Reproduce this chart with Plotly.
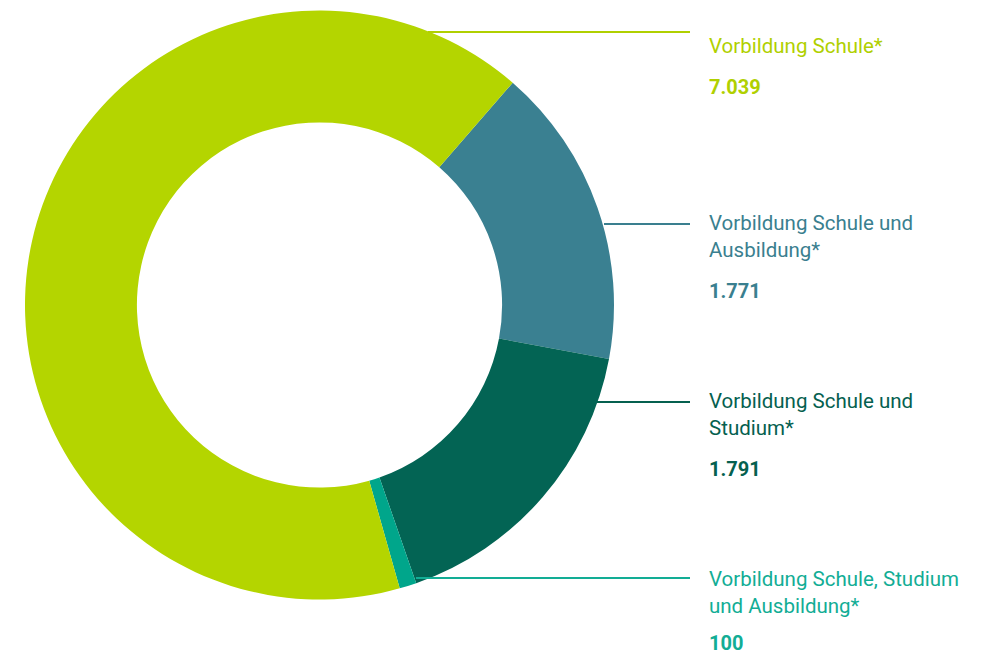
import plotly.graph_objects as go

labels = ["Vorbildung Schule und<br>Ausbildung*", "Vorbildung Schule und<br>Studium*",
          "Vorbildung Schule, Studium<br>und Ausbildung*", "Vorbildung Schule*"]
values = [1771, 1791, 100, 7039]
value_text = ["1.771", "1.791", "100", "7.039"]
colors = ["#3a8091", "#036454", "#00a68b", "#b4d500"]
text_colors = ["#3a7f8f", "#05604f", "#12ad95", "#b0d000"]

W, H = 988, 655

fig = go.Figure(go.Pie(
    labels=labels, values=values, sort=False, direction="clockwise", rotation=41,
    hole=0.62, marker=dict(colors=colors, line=dict(width=0)),
    textinfo="none", hoverinfo="skip",
    domain=dict(x=[25 / W, 614 / W], y=[1 - 600 / H, 1 - 10 / H]),
))

# pixel layout of the callouts: leader line y, line start x, first text line centre y
line_y = [224, 402, 578, 32]
line_x0 = [604, 597, 416, 428]
text_y = [224, 402, 579, 46]
for lab, vt, tc, ly, lx0, ty in zip(labels, value_text, text_colors, line_y, line_x0, text_y):
    nlines = lab.count("<br>") + 1
    fig.add_shape(type="line", xref="paper", yref="paper",
                  x0=lx0 / W, x1=690 / W, y0=1 - ly / H, y1=1 - ly / H,
                  line=dict(color=tc, width=2))
    cy = ty + (nlines - 1) * 13
    fig.add_annotation(x=707 / W, y=1 - cy / H, xref="paper", yref="paper",
                       text=lab, showarrow=False, xanchor="left", yanchor="middle",
                       align="left", font=dict(family="Roboto", size=20.5, color=tc))
    vy = min(ty + (nlines - 1) * 26 + 41, 643)
    fig.add_annotation(x=707 / W, y=1 - vy / H, xref="paper", yref="paper",
                       text="<b>" + vt + "</b>", showarrow=False, xanchor="left",
                       yanchor="middle", align="left",
                       font=dict(family="Roboto", size=20, color=tc))

fig.update_layout(width=W, height=H, margin=dict(l=0, r=0, t=0, b=0),
                  showlegend=False, paper_bgcolor="white", plot_bgcolor="white")
fig.write_html("out.html", config={"displayModeBar": False},
               post_script="document.body.style.margin='0px';")
